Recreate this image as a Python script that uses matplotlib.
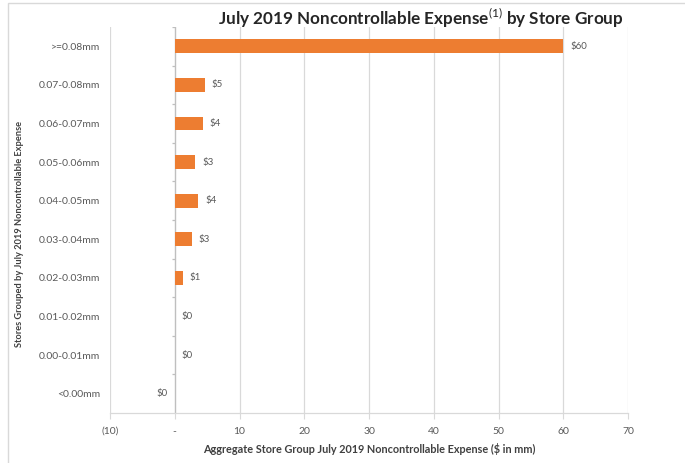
import matplotlib.pyplot as plt
from matplotlib.patches import Rectangle
from matplotlib.ticker import FuncFormatter

plt.rcParams['font.family'] = ['Lato', 'DejaVu Sans']
plt.rcParams['mathtext.fontset'] = 'custom'
plt.rcParams['mathtext.rm'] = 'Lato'
plt.rcParams['mathtext.bf'] = 'Lato:bold'

# store groups, top to bottom, and aggregate expense in $mm
groups = [">=0.08mm", "0.07-0.08mm", "0.06-0.07mm", "0.05-0.06mm", "0.04-0.05mm",
          "0.03-0.04mm", "0.02-0.03mm", "0.01-0.02mm", "0.00-0.01mm", "<0.00mm"]
expense = [60.0, 4.6, 4.3, 3.2, 3.6, 2.6, 1.2, 0.0, 0.0, -0.01]
x_ticks = [-10, 0, 10, 20, 30, 40, 50, 60, 70]

orange = "#ED7D31"
grid_col = "#d9d9d9"
text_col = "#595959"

W, H = 685, 463
fig = plt.figure(figsize=(W / 100, H / 100), dpi=100)
ax = fig.add_axes([110 / W, 50 / H, (628 - 110) / W, (413 - 27) / H])

pos = list(range(len(groups)))
ax.barh(pos, expense, height=0.36, color=orange, zorder=3)

for p, v in zip(pos, expense):
    lab = "$%d" % round(abs(v))
    if v < 0:
        ax.annotate(lab, (v, p), xytext=(-5, 0), textcoords="offset points",
                    ha="right", va="center", fontsize=7, color=text_col)
    else:
        ax.annotate(lab, (v, p), xytext=(5, 0), textcoords="offset points",
                    ha="left", va="center", fontsize=7, color=text_col)

ax.set_ylim(len(groups) - 0.5, -0.5)
ax.set_xlim(-10, 70)
ax.set_yticks(pos)
ax.set_yticklabels(groups, fontsize=7.5, color=text_col)
ax.tick_params(axis="y", length=0, pad=7)

ax.set_xticks(x_ticks)
ax.xaxis.set_major_formatter(FuncFormatter(
    lambda v, _: "-" if v == 0 else ("(%d)" % -v if v < 0 else "%d" % v)))
ax.tick_params(axis="x", length=4, width=0.8, color=grid_col, labelsize=7.5,
               labelcolor=text_col, pad=6)
ax.grid(axis="x", color=grid_col, linewidth=0.9, zorder=0)

for s in ["top", "right", "left"]:
    ax.spines[s].set_visible(False)
ax.spines["bottom"].set_color(grid_col)
ax.spines["bottom"].set_linewidth(0.9)

# category axis at zero with boundary ticks
ax.axvline(0, color="#bfbfbf", linewidth=0.9, zorder=2)
ax.hlines([i - 0.5 for i in range(len(groups))], -0.5, 0, color="#bfbfbf",
          linewidth=0.9, zorder=2)

ax.set_xlabel("Aggregate Store Group July 2019 Noncontrollable Expense ($ in mm)",
              fontsize=7.8, fontweight="bold", color="#404040", labelpad=5)

fig.text(20 / W, 1 - 234 / H, "Stores Grouped by July 2019 Noncontrollable Expense",
         rotation=90, ha="center", va="center", fontsize=6.7, fontweight="bold",
         color="#404040")

fig.text(421 / W, 1 - 18 / H,
         r"July 2019 Noncontrollable Expense$^{\mathrm{(1)}}$ by Store Group",
         ha="center", va="center", fontsize=12.3, fontweight="bold", color="#262626")

# chart frame
fig.patches.append(Rectangle((8 / W, -0.1), 2, 1.1 - 3 / H, transform=fig.transFigure,
                             fill=False, edgecolor="#d9d9d9", linewidth=1))

fig.savefig("out.png", dpi=100)
